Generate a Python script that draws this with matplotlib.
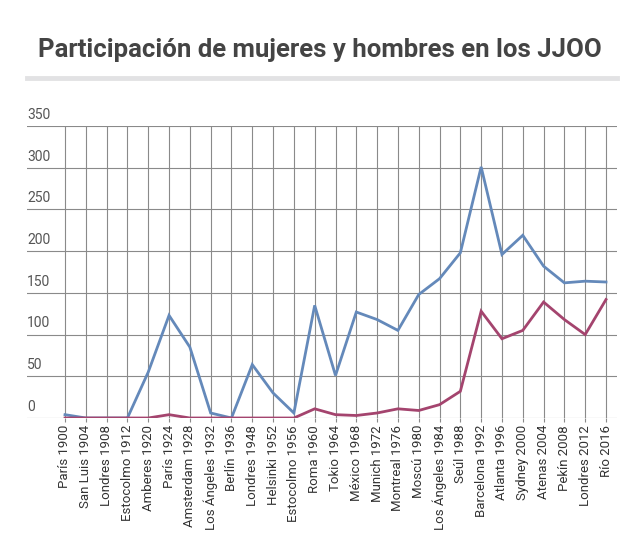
import matplotlib
matplotlib.use("Agg")
import matplotlib.pyplot as plt

plt.rcParams['font.family'] = ['Roboto', 'DejaVu Sans']

sedes = ["París 1900", "San Luis 1904", "Londres 1908", "Estocolmo 1912", "Amberes 1920",
         "París 1924", "Amsterdam 1928", "Los Ángeles 1932", "Berlín 1936", "Londres 1948",
         "Helsinki 1952", "Estocolmo 1956", "Roma 1960", "Tokio 1964", "México 1968",
         "Munich 1972", "Montreal 1976", "Moscú 1980", "Los Ángeles 1984", "Seúl 1988",
         "Barcelona 1992", "Atlanta 1996", "Sydney 2000", "Atenas 2004", "Pekín 2008",
         "Londres 2012", "Río 2016"]

hombres = [4, 0, 0, 0, 55, 123, 85, 6, 0, 64, 30, 6, 135, 51, 127, 118, 105, 148, 167, 198,
           301, 196, 219, 182, 162, 164, 163]
mujeres = [0, 0, 0, 0, 0, 4, 0, 0, 0, 0, 0, 0, 11, 4, 3, 6, 11, 9, 16, 32,
           128, 95, 105, 139, 118, 100, 142]

yticks = [0, 50, 100, 150, 200, 250, 300, 350]

fig = plt.figure(figsize=(6.4, 5.43), dpi=100)
ax = fig.add_axes([27/640, 1 - 418/543, (617 - 27)/640, (418 - 126)/543])

n = len(sedes)
x = list(range(n))
ax.plot(x, hombres, color='#6489ba', lw=2.0, solid_joinstyle='miter', zorder=3)
ax.plot(x, mujeres, color='#a4446e', lw=2.0, solid_joinstyle='miter', zorder=3)

ax.set_ylim(0, 350)
sp = (606 - 65) / (n - 1)
ax.set_xlim(-(65 - 27) / sp, (n - 1) + (617 - 606) / sp)

for yv in yticks:
    ax.axhline(yv, color='#8a8a8a', lw=0.8, zorder=1)
for xv in x:
    ax.axvline(xv, color='#8a8a8a', lw=0.8, zorder=1)

ax.set_xticks(x)
ax.set_xticklabels(sedes, rotation=90, fontsize=9.5, color='#333333')
ax.tick_params(axis='x', length=3, color='#8a8a8a', pad=2)
ax.set_yticks([])
for yv in yticks:
    ax.annotate(str(yv), xy=(0, yv), xycoords=('axes fraction', 'data'),
                xytext=(0, 3), textcoords='offset points',
                ha='left', va='bottom', fontsize=10, color='#555555')

for s in ax.spines.values():
    s.set_visible(False)

fig.text(0.5, 1 - 50/543, "Participación de mujeres y hombres en los JJOO",
         ha='center', va='center', fontsize=18.5, fontweight='bold', color='#444444')
fig.add_artist(plt.Line2D([27/640, 617/640], [1 - 78/543, 1 - 78/543],
                          color='#e2e2e4', lw=3.5, transform=fig.transFigure))

fig.savefig("out.png", dpi=100, facecolor='white')
